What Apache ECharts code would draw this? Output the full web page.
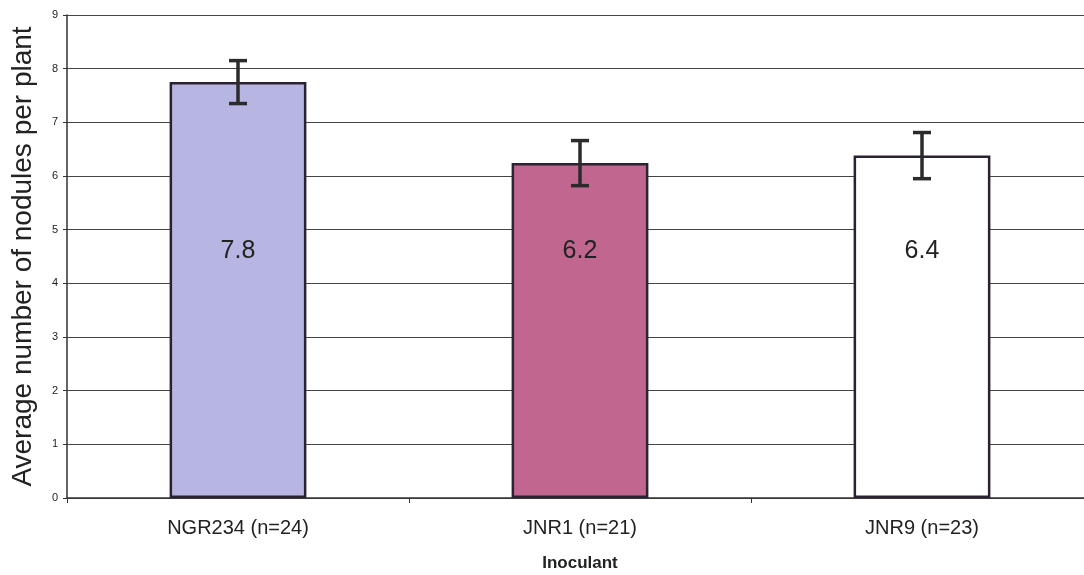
<!DOCTYPE html>
<html>
<head>
<meta charset="utf-8">
<script src="https://cdn.jsdelivr.net/npm/echarts@6/dist/echarts.min.js"></script>
<style>html,body{margin:0;padding:0;background:#fff}#c{width:1084px;height:575px}</style>
</head>
<body>
<div id="c"></div>
<script>
const categories = ['NGR234 (n=24)', 'JNR1 (n=21)', 'JNR9 (n=23)'];
const means = [7.75, 6.24, 6.38];
const errors = [0.40, 0.42, 0.43];
const barColors = ['#b7b5e2', '#c0668f', '#ffffff'];
const yTicks = [0, 1, 2, 3, 4, 5, 6, 7, 8, 9];

const chart = echarts.init(document.getElementById('c'));
const FONT = '"Liberation Sans", Arial, sans-serif';
const LABEL_Y = 4.6;

chart.setOption({
  animation: false,
  backgroundColor: '#fff',
  grid: { left: 67, top: 15, right: -9, bottom: 77, containLabel: false, outerBoundsMode: 'none' },
  xAxis: {
    type: 'category',
    data: categories,
    name: 'Inoculant',
    nameLocation: 'middle',
    nameGap: 57,
    nameTextStyle: { fontFamily: FONT, fontSize: 17, fontWeight: 'bold', color: '#222' },
    axisLine: { lineStyle: { color: '#333', width: 1.5 } },
    axisTick: { show: true, length: 5, lineStyle: { color: '#333' } },
    axisLabel: { fontFamily: FONT, fontSize: 20, color: '#222', margin: 20 },
    splitLine: { show: false }
  },
  yAxis: {
    type: 'value',
    min: yTicks[0],
    max: yTicks[yTicks.length - 1],
    interval: 1,
    name: 'Average number of nodules per plant',
    nameLocation: 'middle',
    nameGap: 30,
    nameTextStyle: { fontFamily: FONT, fontSize: 28, color: '#222' },
    axisLine: { show: true, lineStyle: { color: '#333', width: 1.5 } },
    axisTick: { show: true, length: 4, lineStyle: { color: '#333' } },
    axisLabel: { fontFamily: FONT, fontSize: 11, color: '#222', margin: 9 },
    splitLine: { show: true, lineStyle: { color: '#444', width: 1 } }
  },
  series: [
    {
      type: 'bar',
      barWidth: '40%',
      data: means.map((v, i) => ({
        value: v,
        itemStyle: { color: barColors[i], borderColor: '#2a2230', borderWidth: 2.5 }
      })),
      z: 2
    },
    {
      type: 'custom',
      z: 5,
      data: means.map((v, i) => [i, v, errors[i]]),
      renderItem: function (params, api) {
        const i = api.value(0), m = api.value(1), e = api.value(2);
        const top = api.coord([i, m + e]);
        const bot = api.coord([i, m - e]);
        const lab = api.coord([i, LABEL_Y]);
        const cap = 9;
        const st = { stroke: '#2b2b2b', lineWidth: 3.5 };
        return {
          type: 'group',
          children: [
            { type: 'line', shape: { x1: top[0], y1: top[1], x2: bot[0], y2: bot[1] }, style: st },
            { type: 'line', shape: { x1: top[0] - cap, y1: top[1], x2: top[0] + cap, y2: top[1] }, style: st },
            { type: 'line', shape: { x1: bot[0] - cap, y1: bot[1], x2: bot[0] + cap, y2: bot[1] }, style: st },
            { type: 'text', style: { x: lab[0], y: lab[1], text: m.toFixed(1), fontFamily: FONT, fontSize: 25, fill: '#222', align: 'center', verticalAlign: 'middle' } }
          ]
        };
      }
    }
  ]
});
</script>
</body>
</html>
